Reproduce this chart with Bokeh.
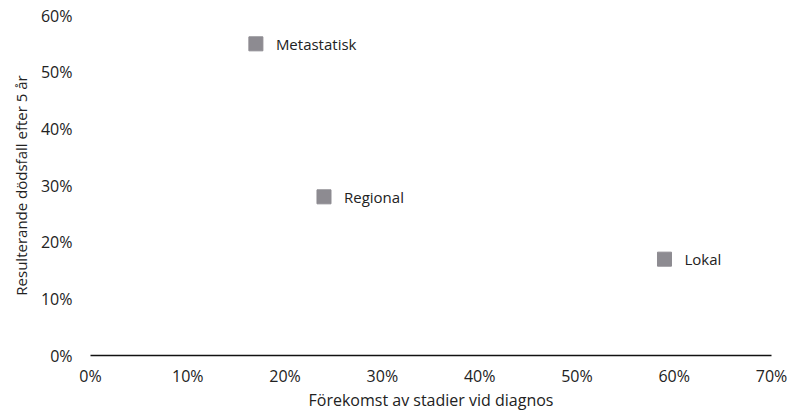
from bokeh.plotting import figure
from bokeh.models import ColumnDataSource, NumeralTickFormatter, FixedTicker, Range1d, LabelSet, Title
from bokeh.core.properties import value
from bokeh.embed import file_html
from bokeh.resources import INLINE

stages = ["Lokal", "Regional", "Metastatisk"]
incidence = [0.59, 0.24, 0.17]
deaths_5y = [0.17, 0.28, 0.55]
x_ticks = [0, 0.1, 0.2, 0.3, 0.4, 0.5, 0.6, 0.7]
y_ticks = [0, 0.1, 0.2, 0.3, 0.4, 0.5, 0.6]

FONT = "Open Sans"
TXT = "#222222"

src = ColumnDataSource(dict(x=incidence, y=deaths_5y, label=stages))

p = figure(width=787, height=414, output_backend="svg", toolbar_location=None,
           x_range=Range1d(0, 0.7), y_range=Range1d(0, 0.6),
           min_border_left=90, min_border_right=16, min_border_top=15, min_border_bottom=59)
p.outline_line_color = None
p.xgrid.visible = False
p.ygrid.visible = False
p.background_fill_color = "white"
p.border_fill_color = "white"

p.scatter("x", "y", source=src, marker="square", size=14,
          fill_color="#8d8b91", line_color="#8d8b91")

labels = LabelSet(x="x", y="y", text="label", source=src, x_offset=20, y_offset=0,
                  text_baseline="middle", text_font=value(FONT), text_font_size="15px",
                  text_color=TXT)
p.add_layout(labels)

for ax in (p.xaxis, p.yaxis):
    ax.major_label_text_font = FONT
    ax.major_label_text_font_size = "16px"
    ax.major_label_text_color = TXT
    ax.axis_label_text_font = FONT
    ax.axis_label_text_font_size = "16px"
    ax.axis_label_text_font_style = "normal"
    ax.axis_label_text_color = TXT
    ax.major_tick_line_color = None
    ax.minor_tick_line_color = None
    ax.major_tick_out = 0
    ax.major_tick_in = 0
    ax.formatter = NumeralTickFormatter(format="0%")

p.xaxis.ticker = FixedTicker(ticks=x_ticks)
p.yaxis.ticker = FixedTicker(ticks=y_ticks)
p.xaxis.axis_line_color = "#111111"
p.xaxis.axis_line_width = 1.3
p.yaxis.axis_line_color = None
p.xaxis.axis_label = "Förekomst av stadier vid diagnos"
p.xaxis.major_label_standoff = 9
p.yaxis.major_label_standoff = 18
p.xaxis.axis_label_standoff = -1

ytitle = Title(text="Resulterande dödsfall efter 5 år", align="center", offset=-10,
               standoff=13, text_font=FONT, text_font_size="15px",
               text_font_style="normal", text_color=TXT)
p.add_layout(ytitle, "left")

open("out.html", "w").write(file_html(p, INLINE))
